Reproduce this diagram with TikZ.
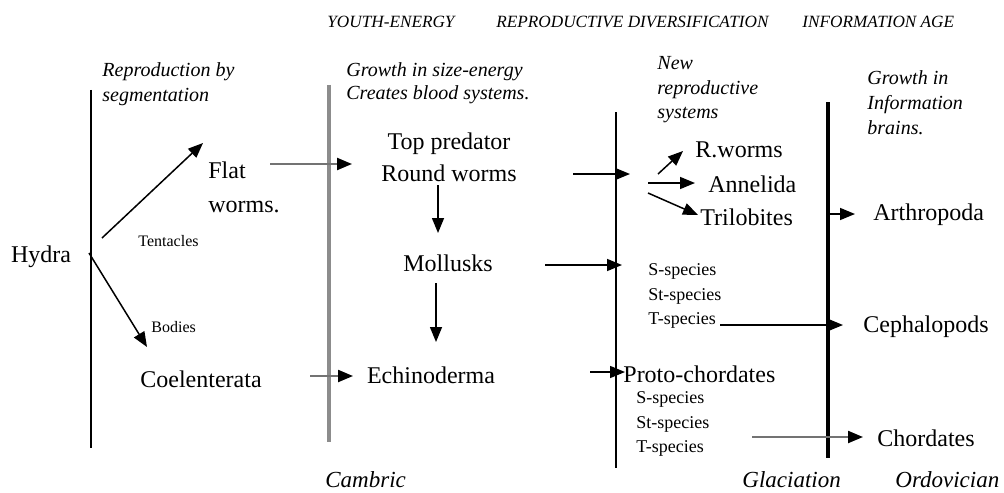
\documentclass[tikz,border=0pt]{standalone}
\usepackage{fontspec}
\setmainfont{Liberation Serif}
\usetikzlibrary{arrows.meta}
\begin{document}
\begin{tikzpicture}[x=0.5pt,y=-0.5pt,
  lbl/.style={inner sep=0pt, font=\fontsize{12}{16}\selectfont},
  note/.style={inner sep=0pt, anchor=west, align=left, font=\fontsize{10}{12.5}\selectfont\itshape},
  hdr/.style={inner sep=0pt, anchor=west, font=\fontsize{8.6}{10}\selectfont\itshape},
  small/.style={inner sep=0pt, anchor=west, font=\fontsize{8}{10}\selectfont},
  spec/.style={inner sep=0pt, anchor=west, align=left, font=\fontsize{9}{12.2}\selectfont},
  era/.style={inner sep=0pt, anchor=west, font=\fontsize{11.5}{13}\selectfont\itshape},
  arr/.style={-{Triangle[length=7.5pt,width=6pt,black]}, line width=0.75pt},
  grayarr/.style={arr, draw=black!55, line width=1.1pt},
  thinline/.style={line width=0.75pt},
]
\useasboundingbox (0,0) rectangle (1004,492);

% vertical era lines
\draw[thinline] (91,90) -- (91,448);
\draw[black!45, line width=1.6pt] (329,85) -- (329,442);
\draw[thinline] (616,112) -- (616,468);
\draw[line width=2pt] (828,102) -- (828,458);

% headers
\node[hdr] (h1) at (327,22) {YOUTH-ENERGY};
\node[hdr] (h2) at (496,22) {REPRODUCTIVE DIVERSIFICATION};
\node[hdr] (h3) at (802,22) {INFORMATION AGE};

% notes
\node[note] (n1) at (102,84.5) {Reproduction by\\segmentation};
\node[note, font=\fontsize{10}{11.5}\selectfont\itshape] (n2) at (346,83.5) {Growth in size-energy\\Creates blood systems.};
\node[note, font=\fontsize{10}{12.2}\selectfont\itshape] (n3) at (657,90) {New\\reproductive\\systems};
\node[note] (n4) at (867,103) {Growth in\\Information\\brains.};

% main labels
\node[lbl] (hydra) at (41,257) {Hydra};
\node[lbl, anchor=west, align=left, font=\fontsize{12}{17}\selectfont] (flat) at (208,187) {Flat\\worms.};
\node[lbl, align=center] (round) at (449,157) {Top predator\\Round worms};
\node[lbl] (moll) at (448,263) {Mollusks};
\node[lbl] (echi) at (431,375) {Echinoderma};
\node[lbl] (coel) at (201,379) {Coelenterata};
\node[small] (tent) at (138,241) {Tentacles};
\node[small] (bod) at (151,327) {Bodies};
\node[lbl, anchor=west] (rw) at (695,150) {R.worms};
\node[lbl, anchor=west] (ann) at (708,184) {Annelida};
\node[lbl, anchor=west] (tri) at (700,217) {Trilobites};
\node[lbl, anchor=west] (arth) at (873,215) {Arthropoda};
\node[spec] (sp1) at (648,296) {S-species\\St-species\\T-species};
\node[lbl, anchor=west] (ceph) at (863,327) {Cephalopods};
\node[lbl, anchor=west] (proto) at (623,374) {Proto-chordates};
\node[spec] (sp2) at (636,424) {S-species\\St-species\\T-species};
\node[lbl, anchor=west] (chord) at (877,438) {Chordates};
\node[era] (glac) at (742,480) {Glaciation};
\node[era] (ordo) at (895,480) {Ordovician};
\node[era] (camb) at (325,480) {Cambric};

% connector end points
\coordinate (hfA) at (102,238); \coordinate (hfB) at (203,143);
\coordinate (hcA) at (89,253);  \coordinate (hcB) at (147,347);
\coordinate (frA) at (270,164); \coordinate (frB) at (352,164);
\coordinate (rmA) at (438,185); \coordinate (rmB) at (438,233);
\coordinate (meA) at (436,283); \coordinate (meB) at (436,342);
\coordinate (ceA) at (310,376); \coordinate (ceB) at (353,376);
\coordinate (r3A) at (573,174); \coordinate (r3B) at (630,174);
\coordinate (fanR) at (658,174); \coordinate (rwB) at (683,151);
\coordinate (fanA) at (648,183); \coordinate (annB) at (695,183);
\coordinate (fanT) at (648,193); \coordinate (triB) at (698,215);
\coordinate (m3A) at (545,265); \coordinate (m3B) at (622,265);
\coordinate (epA) at (590,372); \coordinate (epB) at (625,372);
\coordinate (l4A) at (828,214); \coordinate (arB) at (855,214);
\coordinate (tcA) at (720,325); \coordinate (tcB) at (843,325);
\coordinate (chA) at (752,437); \coordinate (chB) at (863,437);

% connectors
\draw[arr] (hfA) -- (hfB);
\draw[arr] (hcA) -- (hcB);
\draw[grayarr] (frA) -- (frB);
\draw[arr] (rmA) -- (rmB);
\draw[arr] (meA) -- (meB);
\draw[grayarr] (ceA) -- (ceB);
\draw[arr] (r3A) -- (r3B);
\draw[arr] (fanR) -- (rwB);
\draw[arr] (fanA) -- (annB);
\draw[arr] (fanT) -- (triB);
\draw[arr] (m3A) -- (m3B);
\draw[arr] (epA) -- (epB);
\draw[arr] (l4A) -- (arB);
\draw[arr] (tcA) -- (tcB);
\draw[grayarr] (chA) -- (chB);
\end{tikzpicture}
\end{document}
